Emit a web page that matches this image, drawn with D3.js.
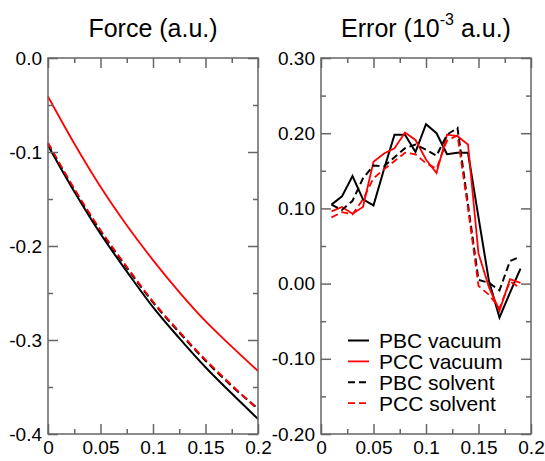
<!DOCTYPE html>
<html>
<head>
<meta charset="utf-8">
<script src="https://cdn.jsdelivr.net/npm/d3@7"></script>
<style>
  body { margin: 0; background: #fff; }
  text { font-family: "Liberation Sans", Arial, sans-serif; }
</style>
</head>
<body>
<script>
// Force panel (left)
const forceX = [0, 0.025, 0.05, 0.075, 0.1, 0.125, 0.15, 0.175, 0.2];
const forcePbcVac  = [-0.093, -0.142, -0.187, -0.227, -0.265, -0.298, -0.329, -0.357, -0.384];
const forcePccVac  = [-0.041, -0.091, -0.137, -0.178, -0.215, -0.249, -0.280, -0.307, -0.333];
const forcePbcSolv = [-0.091, -0.140, -0.184, -0.223, -0.260, -0.292, -0.322, -0.349, -0.373];
const forcePccSolv = [-0.090, -0.139, -0.183, -0.222, -0.259, -0.291, -0.321, -0.348, -0.374];

// Error panel (right)
const errX = [0.01, 0.02, 0.03, 0.04, 0.05, 0.06, 0.07, 0.08, 0.09, 0.10,
              0.11, 0.12, 0.13, 0.14, 0.15, 0.16, 0.17, 0.18, 0.19];
const errPbcVac  = [0.105, 0.116, 0.143, 0.112, 0.104, 0.152, 0.198, 0.198, 0.175, 0.212,
                    0.200, 0.172, 0.174, 0.174, 0.088, 0.003, -0.045, -0.012, 0.020];
const errPccVac  = [0.096, 0.102, 0.093, 0.102, 0.162, 0.173, 0.180, 0.201, 0.191, 0.165,
                    0.147, 0.198, 0.196, 0.185, 0.040, -0.005, -0.036, 0.006, 0.001];
const errPbcSolv = [0.105, 0.098, 0.110, 0.140, 0.157, 0.156, 0.168, 0.180, 0.185, 0.178,
                    0.170, 0.198, 0.207, 0.105, 0.005, 0.001, -0.009, 0.030, 0.036];
const errPccSolv = [0.088, 0.095, 0.092, 0.112, 0.140, 0.152, 0.163, 0.174, 0.172, 0.160,
                    0.153, 0.190, 0.197, 0.100, -0.003, -0.015, -0.033, 0.003, -0.006];

const seriesNames = ["PBC vacuum", "PCC vacuum", "PBC solvent", "PCC solvent"];
const seriesColors = ["#000", "#ff0000", "#000", "#ff0000"];
const seriesDash = [null, null, "7,4", "7,4"];
const seriesWidth = [2, 1.8, 2, 1.8];

const xTicks = [0, 0.05, 0.1, 0.15, 0.2];
const xMinor = [0.025, 0.075, 0.125, 0.175];
const xLabels = ["0", "0.05", "0.1", "0.15", "0.2"];
const forceTicks = [-0.4, -0.3, -0.2, -0.1, 0];
const forceMinor = [-0.35, -0.25, -0.15, -0.05];
const errTicks = [-0.2, -0.1, 0, 0.1, 0.2, 0.3];
const errMinor = [-0.15, -0.05, 0.05, 0.15, 0.25];

const svg = d3.select("body")
    .append("svg")
    .attr("width", 545)
    .attr("height", 461);

function panel(opts) {
    const x = d3.scaleLinear().domain([0, 0.2]).range([opts.left, opts.right]);
    const y = d3.scaleLinear().domain(opts.yDomain).range([434, 58]);
    const g = svg.append("g");

    const line = d3.line()
        .x(d => x(d[0]))
        .y(d => y(d[1]))
        .curve(opts.curve);

    opts.series.forEach((vals, i) => {
        g.append("path")
            .datum(opts.xs.map((v, j) => [v, vals[j]]))
            .attr("fill", "none")
            .attr("stroke", seriesColors[i])
            .attr("stroke-width", seriesWidth[i])
            .attr("stroke-dasharray", seriesDash[i])
            .attr("d", line);
    });

    // ticks inward on all four sides
    const bottom = (vals, size, labels) => d3.axisBottom(x).tickValues(vals)
        .tickSizeInner(-size).tickSizeOuter(0).tickPadding(7)
        .tickFormat((d, i) => labels ? labels[i] : "");
    const left = (vals, size, labels) => d3.axisLeft(y).tickValues(vals)
        .tickSizeInner(-size).tickSizeOuter(0).tickPadding(6)
        .tickFormat((d, i) => labels ? labels[i] : "");

    const axes = [
        g.append("g").attr("transform", "translate(0,434)").call(bottom(xTicks, 10, xLabels)),
        g.append("g").attr("transform", "translate(0,434)").call(bottom(xMinor, 5)),
        g.append("g").attr("transform", "translate(0,58)").call(d3.axisTop(x).tickValues(xTicks).tickSizeInner(-10).tickSizeOuter(0).tickFormat("")),
        g.append("g").attr("transform", "translate(0,58)").call(d3.axisTop(x).tickValues(xMinor).tickSizeInner(-5).tickSizeOuter(0).tickFormat("")),
        g.append("g").attr("transform", `translate(${opts.left},0)`).call(left(opts.yTicks, 10, opts.yLabels)),
        g.append("g").attr("transform", `translate(${opts.left},0)`).call(left(opts.yMinor, 5)),
        g.append("g").attr("transform", `translate(${opts.right},0)`).call(d3.axisRight(y).tickValues(opts.yTicks).tickSizeInner(-10).tickSizeOuter(0).tickFormat("")),
        g.append("g").attr("transform", `translate(${opts.right},0)`).call(d3.axisRight(y).tickValues(opts.yMinor).tickSizeInner(-5).tickSizeOuter(0).tickFormat(""))
    ];
    axes.forEach(a => {
        a.select(".domain").remove();
        a.selectAll("line").attr("stroke", "#666").attr("stroke-width", 1.5);
        a.selectAll("text").style("font-size", "19px").attr("fill", "#000");
    });

    g.append("rect")
        .attr("x", opts.left).attr("y", 58)
        .attr("width", opts.right - opts.left).attr("height", 376)
        .attr("fill", "none").attr("stroke", "#666").attr("stroke-width", 1.5);

    return { g, x, y };
}

panel({
    left: 48, right: 258, yDomain: [-0.4, 0],
    yTicks: forceTicks, yMinor: forceMinor,
    yLabels: ["-0.4", "-0.3", "-0.2", "-0.1", "0.0"],
    xs: forceX, curve: d3.curveMonotoneX,
    series: [forcePbcVac, forcePccVac, forcePbcSolv, forcePccSolv]
});

panel({
    left: 321, right: 531, yDomain: [-0.2, 0.3],
    yTicks: errTicks, yMinor: errMinor,
    yLabels: ["-0.20", "-0.10", "0.00", "0.10", "0.20", "0.30"],
    xs: errX, curve: d3.curveLinear,
    series: [errPbcVac, errPccVac, errPbcSolv, errPccSolv]
});

// titles
svg.append("text")
    .attr("x", 153).attr("y", 37)
    .attr("text-anchor", "middle")
    .style("font-size", "25px")
    .text("Force (a.u.)");

const t2 = svg.append("text")
    .attr("x", 426).attr("y", 37)
    .attr("text-anchor", "middle")
    .style("font-size", "25px");
t2.append("tspan").text("Error (10");
t2.append("tspan").attr("dy", -12).style("font-size", "16px").text("-3");
t2.append("tspan").attr("dy", 12).text(" a.u.)");

// legend
const legend = svg.append("g");
seriesNames.forEach((name, i) => {
    const ly = 340.5 + i * 20.9;
    legend.append("line")
        .attr("x1", 348).attr("x2", 369)
        .attr("y1", ly).attr("y2", ly)
        .attr("stroke", seriesColors[i])
        .attr("stroke-width", seriesWidth[i])
        .attr("stroke-dasharray", seriesDash[i]);
    legend.append("text")
        .attr("x", 379).attr("y", ly)
        .attr("dy", "0.35em")
        .style("font-size", "21px")
        .text(name);
});
</script>
</body>
</html>
